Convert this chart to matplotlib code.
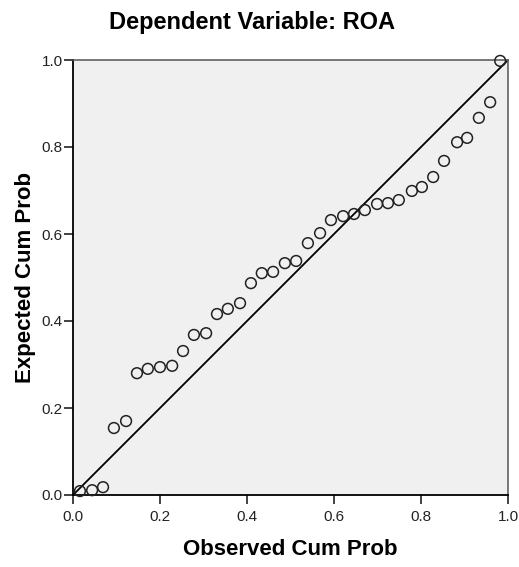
import numpy as np
import matplotlib.pyplot as plt

plt.rcParams['font.family'] = ['Liberation Sans', 'DejaVu Sans']

# observed vs expected cumulative probabilities
observed = [0.016, 0.044, 0.069, 0.094, 0.122, 0.147, 0.172, 0.200, 0.228, 0.253,
            0.278, 0.306, 0.331, 0.356, 0.384, 0.409, 0.434, 0.460, 0.487, 0.513,
            0.540, 0.568, 0.593, 0.621, 0.646, 0.671, 0.699, 0.724, 0.749, 0.779,
            0.802, 0.828, 0.853, 0.883, 0.906, 0.933, 0.959, 0.982]
expected = [0.009, 0.011, 0.018, 0.154, 0.170, 0.280, 0.290, 0.294, 0.297, 0.331,
            0.368, 0.372, 0.416, 0.428, 0.441, 0.487, 0.510, 0.513, 0.533, 0.538,
            0.579, 0.602, 0.632, 0.641, 0.646, 0.655, 0.669, 0.671, 0.678, 0.699,
            0.708, 0.731, 0.768, 0.811, 0.821, 0.867, 0.903, 0.998]
ticks = [0.0, 0.2, 0.4, 0.6, 0.8, 1.0]

fig = plt.figure(figsize=(5.19, 5.67), dpi=100)
ax = fig.add_axes([73/519, 72/567, 435/519, 435/567])
ax.set_facecolor('#f0f0f0')

ax.plot([0, 1], [0, 1], color='black', lw=1.3, zorder=2)
ax.scatter(observed, expected, s=60, facecolors='none', edgecolors='#222222',
           linewidths=1.1, zorder=3, clip_on=False)

ax.set_xlim(0, 1)
ax.set_ylim(0, 1)
ax.set_xticks(ticks)
ax.set_yticks(ticks)
ax.set_xticklabels(['%.1f' % t for t in ticks])
ax.set_yticklabels(['%.1f' % t for t in ticks])
ax.tick_params(direction='out', length=6.5, width=1.2, labelsize=11,
               colors='#222222')
ax.tick_params(axis='y', pad=1)
ax.tick_params(axis='x', pad=4)

for s in ['left', 'bottom']:
    ax.spines[s].set_color('black')
    ax.spines[s].set_linewidth(1.3)
for s in ['top', 'right']:
    ax.spines[s].set_color('#555555')
    ax.spines[s].set_linewidth(1.1)

ax.set_xlabel('Observed Cum Prob', fontsize=16, fontweight='bold', labelpad=11)
ax.set_ylabel('Expected Cum Prob', fontsize=16, fontweight='bold', labelpad=4)
fig.text(252/519, 1 - 22/567, 'Dependent Variable: ROA', ha='center', va='center',
         fontsize=17, fontweight='bold')

fig.savefig('out.png', dpi=100)
